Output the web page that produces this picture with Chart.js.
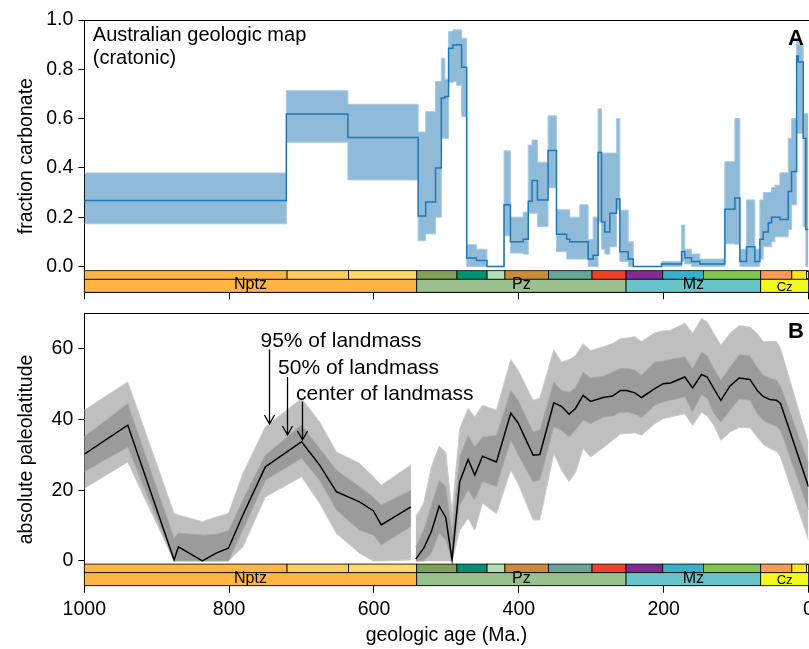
<!DOCTYPE html>
<html>
<head>
<meta charset="utf-8">
<script src="https://cdn.jsdelivr.net/npm/chart.js@4.4.1/dist/chart.umd.min.js"></script>
<style>
  html, body { margin: 0; padding: 0; background: #fff; width: 809px; height: 649px; overflow: hidden; }
  canvas { position: absolute; left: 0; }
  #carb { top: 0; }
  #lat { top: 300px; }
</style>
</head>
<body>
<canvas id="carb" width="809" height="300"></canvas>
<canvas id="lat" width="809" height="349"></canvas>
<script>
// ---- Geologic time scale (Ma) ----
const periodBounds = [1000, 720, 635, 541, 485.4, 443.8, 419.2, 358.9, 298.9, 251.9, 201.3, 145, 66, 23.03, 2.58, 0];
const periodColors = ['#FDB546', '#FECC5C', '#FED96A', '#7FA056', '#009270', '#B3E1B6', '#CB8C37',
                      '#67A599', '#F04028', '#812B92', '#34B2C9', '#7FC64E', '#FD9A52', '#FFE619', '#F9F97F'];
const eraBounds = [1000, 541, 251.9, 66, 0];
const eraNames = ['Nptz', 'Pz', 'Mz', 'Cz'];
const eraColors = ['#FEB342', '#99C08D', '#67C5CA', '#F2F91D'];

// ---- Panel A: fraction carbonate, Australian cratonic map (step series, value holds from each age onward) ----
const carbAge = [1000, 721, 636, 539, 528.6, 515, 507, 502, 497, 491, 486, 479, 472, 458.5, 444,
                 420.4, 411.6, 394, 387, 381.7, 374.3, 359.6, 348, 334, 329.6, 315.8, 304.3, 297.4,
                 290.5, 285.8, 281.3, 274.3, 265.1, 260.5, 249, 242, 203, 175.3, 170.8, 161.5, 150,
                 115.5, 101.7, 94.8, 85.6, 74.1, 67.1, 62.5, 55.6, 51, 46.4, 39.5, 28, 23.4, 16.4,
                 14.2, 7.3, 3.6, 0];
const carbMid = [0.268, 0.619, 0.523, 0.205, 0.261, 0.399, 0.683, 0.69, 0.885, 0.899, 0.90, 0.808, 0.034, 0.024, 0,
                 0.25, 0.10, 0.11, 0.264, 0.349, 0.27, 0.47, 0.131, 0.11, 0.10, 0.10, 0.03, 0.045,
                 0.462, 0.18, 0.14, 0.216, 0.274, 0.06, 0.03, 0, 0.01, 0.06, 0.035, 0.02, 0.01,
                 0.232, 0.278, 0.02, 0.08, 0.02, 0.11, 0.14, 0.177, 0.2, 0.2, 0.19, 0.304, 0.385, 0.854,
                 0.83, 0.52, 0.15, 0.15];
const carbLo = [0.173, 0.504, 0.351, 0.104, 0.132, 0.20, 0.52, 0.52, 0.746, 0.75, 0.735, 0.608, 0, 0, 0,
                0.124, 0.054, 0.05, 0.216, 0.216, 0.162, 0.319, 0.06, 0.03, 0.03, 0.03, 0, 0,
                0.18, 0.07, 0.05, 0.08, 0.23, 0.02, 0, 0, 0, 0.02, 0.01, 0, 0,
                0.092, 0.09, 0, 0, 0, 0.03, 0.08, 0.08, 0.1, 0.12, 0.12, 0.15, 0.25, 0.54,
                0.54, 0.16, 0, 0];
const carbHi = [0.379, 0.713, 0.658, 0.545, 0.628, 0.75, 0.845, 0.76, 0.953, 0.96, 0.96, 0.926, 0.088, 0.07, 0,
                0.469, 0.20, 0.22, 0.493, 0.513, 0.423, 0.611, 0.23, 0.23, 0.20, 0.25, 0.11, 0.2,
                0.64, 0.46, 0.46, 0.46, 0.60, 0.228, 0.10, 0, 0.02, 0.168, 0.07, 0.05, 0.03,
                0.425, 0.60, 0.07, 0.27, 0.07, 0.27, 0.30, 0.30, 0.32, 0.33, 0.38, 0.52, 0.60, 0.92,
                0.90, 0.62, 0.62, 0.62];
const carbTicks = [0, 0.2, 0.4, 0.6, 0.8, 1.0];

// ---- Panel B: absolute paleolatitude (two reconstruction segments) ----
const latAgeA = [1000, 940, 876, 870, 837, 818, 801, 781, 750, 700, 675, 652, 620, 601, 590, 549];
const latMidA = [30.2, 38.4, 0.3, 4.0, 0, 2.2, 3.6, 13, 26.6, 33.7, 27.1, 19.6, 16.7, 14.2, 10.2, 15.3];
const lat50LoA = [25.2, 32.2, 0, 0, 0, 0, 0, 8.7, 22.8, 29, 22.8, 14.4, 8.7, 7.3, 4.5, 9.7];
const lat50HiA = [35.1, 44.5, 6.4, 7.9, 7.3, 7.5, 8.5, 17.2, 29.9, 38.4, 31.8, 25.7, 21, 18.1, 15.8, 20];
const lat95LoA = [20.5, 28, 0, 0, 0, 0, 0, 4, 18.1, 23.8, 16.3, 7.8, 2.2, 0, 0, 0.3];
const lat95HiA = [42.6, 50.6, 13.4, 13, 11.1, 12.4, 13.4, 24.7, 37.9, 45.9, 39.3, 30.8, 27.6, 23.8, 21.4, 27.1];

const latAgeB = [542.3, 531.3, 520.7, 510, 500.9, 492.2, 481.6, 470, 460.8, 450.2, 430.9, 411.1, 401, 380.3, 371,
                 351.7, 341.1, 330.6, 321.8, 311.2, 301, 283.6, 270.6, 259.6, 251.3, 239.8, 230.6, 212.2, 200.7,
                 190.5, 170.8, 160, 147.7, 139.9, 130.7, 121, 108.6, 95.7, 80.9, 70.8, 62.6, 53.3, 44.1, 38.6, 0];
const latMidB = [0.5, 3.6, 8.3, 15.5, 12.3, 0.3, 22.4, 28.7, 24.3, 29.6, 28.0, 41.8, 39.0, 29.9, 30.1,
                 44.7, 43.7, 41.5, 43.1, 46.8, 45.1, 46.2, 46.6, 48.2, 48.2, 47.5, 46.2, 48.7, 50.1,
                 50.3, 52.0, 48.9, 52.7, 52.0, 48.7, 45.4, 49.4, 51.7, 51.3, 48.2, 46.5, 45.6, 45.4, 44.5, 21.0];
const lat50LoB = [0, 0, 2.2, 7.8, 5.9, 0, 15.8, 20, 17.2, 22.4, 21, 34.1, 30, 22.4, 22.8,
                  37.9, 36.9, 35, 37, 39.8, 38.8, 40.6, 41, 42, 42, 41.5, 40.5, 44, 44.9,
                  45.4, 46.4, 42, 47, 46, 41.6, 39.3, 42.5, 45.8, 45.4, 41.6, 39.8, 38.8, 38, 36.9, 14.4];
const lat50HiB = [4, 8.7, 15.8, 22.8, 21, 7.8, 29.4, 35.5, 32.2, 35, 35.5, 48.2, 45.4, 36.5, 37,
                  50.6, 48.2, 47.7, 49, 53.4, 51.7, 52.2, 53.4, 54.4, 54.4, 54, 52.5, 56.2, 56.5,
                  57, 57.7, 54.4, 59, 58, 54.4, 51.1, 54.7, 58.3, 58, 54.7, 52.5, 51.7, 51, 49.5, 27.6];
const lat95LoB = [0, 0, 0, 0, 0, 0, 8.7, 12, 8.7, 16.3, 13.4, 25.7, 21.9, 11.6, 11.6,
                  30.4, 25.7, 22.4, 25, 31.8, 29.4, 32, 34.1, 35.9, 36, 36.2, 35.5, 38.8, 40.2,
                  40.7, 41.6, 38.3, 42, 41, 38.3, 34.1, 36.4, 37.7, 37.7, 35, 33, 31.8, 30.9, 29.4, 5.9];
const lat95HiB = [12.5, 16.3, 26.6, 32.4, 30.8, 13.9, 37.4, 43.1, 40.7, 44, 42.6, 56.9, 53.9, 45.4, 46,
                  59.7, 56.2, 56.9, 58, 61.4, 59.5, 60.5, 61.4, 62.9, 63, 63.4, 62, 64.5, 65,
                  65.2, 67.2, 64.3, 68.5, 67.6, 64.3, 61, 64.3, 66.5, 66.1, 64.3, 62, 62, 62, 60, 33.2];
const latTicks = [0, 20, 40, 60];
const ageTicksStep = 200;

// Annotation labels and arrows (age, latitude)
const noteText = ['95% of landmass', '50% of landmass', 'center of landmass'];
const noteAge = [756.7, 732.5, 707.7];
const noteLat = [60.6, 52.9, 45.5];
const arrowAge = [744.9, 720.5, 699.8];
const arrowFrom = [59.8, 52.0, 45.0];
const arrowTo = [38.7, 35.6, 34.2];

// ---- helpers ----
const FONT = "'Liberation Sans', Arial, Helvetica, sans-serif";
Chart.defaults.font.family = FONT;
Chart.defaults.font.size = 19.5;
Chart.defaults.color = '#000';

function pts(xs, ys) { return xs.map((x, i) => ({ x: x, y: ys[i] })); }
function joinGap(a, b, xa, xb) { return pts(xa, a).concat([{ x: (xa[xa.length - 1] + xb[0]) / 2, y: null }], pts(xb, b)); }

// Time-scale strip along the bottom of each panel
const timeScalePlugin = {
  id: 'timeScale',
  afterDatasetsDraw(chart) {
    const { ctx, chartArea: a, scales: { x } } = chart;
    const h = a.bottom - a.top;
    const eraTop = a.bottom - h * 0.0478;
    const perTop = a.bottom - h * 0.0794;
    ctx.save();
    ctx.lineWidth = 0.8;
    ctx.strokeStyle = '#000';
    for (let i = 0; i < periodColors.length; i++) {
      const x0 = x.getPixelForValue(periodBounds[i]);
      const x1 = x.getPixelForValue(periodBounds[i + 1]);
      ctx.fillStyle = periodColors[i];
      ctx.fillRect(x0, perTop, x1 - x0, eraTop - perTop);
      ctx.strokeRect(x0, perTop, x1 - x0, eraTop - perTop);
    }
    for (let i = 0; i < eraNames.length; i++) {
      const x0 = x.getPixelForValue(eraBounds[i]);
      const x1 = x.getPixelForValue(eraBounds[i + 1]);
      ctx.fillStyle = eraColors[i];
      ctx.fillRect(x0, eraTop, x1 - x0, a.bottom - eraTop);
      ctx.strokeRect(x0, eraTop, x1 - x0, a.bottom - eraTop);
      const narrow = (x1 - x0) < 60;
      ctx.fillStyle = '#000';
      ctx.font = (narrow ? 13 : 16) + 'px ' + FONT;
      ctx.textAlign = 'center';
      ctx.textBaseline = 'alphabetic';
      ctx.fillText(eraNames[i], (x0 + x1) / 2, a.bottom - (narrow ? 1.8 : 3.2));
    }
    ctx.restore();
  }
};

// Top spine, panel letter and free text
const framePlugin = {
  id: 'frame',
  afterDraw(chart, args, opts) {
    const { ctx, chartArea: a } = chart;
    ctx.save();
    ctx.strokeStyle = '#000';
    ctx.lineWidth = 1;
    ctx.beginPath();
    ctx.moveTo(a.left, Math.round(a.top) + 0.5);
    ctx.lineTo(a.right + 2, Math.round(a.top) + 0.5);
    ctx.stroke();
    ctx.fillStyle = '#000';
    ctx.font = 'bold 22px ' + FONT;
    ctx.textAlign = 'right';
    ctx.textBaseline = 'alphabetic';
    ctx.fillText(opts.letter, a.right - 4.5, a.top + 25);
    if (opts.lines) {
      ctx.font = '20px ' + FONT;
      ctx.textAlign = 'left';
      opts.lines.forEach((t, i) => ctx.fillText(t, a.left + 8.5, a.top + 20.5 + i * 23));
    }
    ctx.restore();
  }
};

// Labelled arrows in panel B
const notesPlugin = {
  id: 'notes',
  afterDatasetsDraw(chart) {
    const { ctx, scales: { x, y } } = chart;
    ctx.save();
    ctx.fillStyle = '#000';
    ctx.strokeStyle = '#000';
    ctx.font = '21px ' + FONT;
    ctx.textAlign = 'left';
    ctx.textBaseline = 'alphabetic';
    noteText.forEach((t, i) => ctx.fillText(t, x.getPixelForValue(noteAge[i]), y.getPixelForValue(noteLat[i])));
    ctx.lineWidth = 1.3;
    arrowAge.forEach((age, i) => {
      const px = Math.round(x.getPixelForValue(age)) + 0.5;
      const y0 = y.getPixelForValue(arrowFrom[i]);
      const y1 = y.getPixelForValue(arrowTo[i]);
      ctx.beginPath();
      ctx.moveTo(px, y0);
      ctx.lineTo(px, y1);
      ctx.moveTo(px - 5, y1 - 9);
      ctx.lineTo(px, y1);
      ctx.lineTo(px + 5, y1 - 9);
      ctx.stroke();
    });
    ctx.restore();
  }
};

function fixedTicks(list) {
  return function (scale) { scale.ticks = list.map(v => ({ value: v })); };
}

function xAxis(showLabels, height) {
  return {
    type: 'linear', min: 0, max: 1000, reverse: true, z: 1,
    ticks: { stepSize: ageTicksStep, display: showLabels, padding: 5, maxRotation: 0, callback: v => String(v) },
    grid: { display: true, drawOnChartArea: false, drawTicks: true, tickLength: 7, color: '#000', lineWidth: 1 },
    border: { display: true, color: '#000', width: 1 },
    title: showLabels ? { display: true, text: 'geologic age (Ma.)', font: { size: 19.5 }, padding: { top: 0, bottom: 2 } } : { display: false },
    afterFit(scale) { scale.height = height; scale.paddingLeft = 0; scale.paddingRight = 0; }
  };
}

function yAxis(min, max, list, fmt, title) {
  return {
    type: 'linear', min: min, max: max, z: 1,
    afterBuildTicks: fixedTicks(list),
    ticks: { padding: 5, callback: fmt },
    grid: { display: true, drawOnChartArea: false, drawTicks: true, tickLength: 6, color: '#000', lineWidth: 1 },
    border: { display: true, color: '#000', width: 1 },
    title: { display: true, text: title, font: { size: 19.5 }, padding: { top: 15, bottom: 0 } },
    afterFit(scale) { scale.width = 84.3; scale.paddingTop = 0; scale.paddingBottom = 0; }
  };
}

const common = {
  responsive: false,
  devicePixelRatio: 1,
  animation: false,
  events: [],
  elements: { point: { radius: 0 }, line: { tension: 0 } },
  plugins: { legend: { display: false }, tooltip: { enabled: false } }
};

// ---- Panel A ----
new Chart(document.getElementById('carb'), {
  type: 'line',
  data: {
    datasets: [
      { data: pts(carbAge, carbHi), stepped: true, borderColor: '#a9cbe4', borderWidth: 1, fill: false, order: 5 },
      { data: pts(carbAge, carbLo), stepped: true, borderColor: '#a9cbe4', borderWidth: 1,
        fill: '-1', backgroundColor: 'rgba(31,119,180,0.5)', order: 5 },
      { data: pts(carbAge, carbMid), stepped: true, borderColor: '#1f77b4', borderWidth: 1.5, fill: false, order: 0 }
    ]
  },
  options: Object.assign({}, common, {
    layout: { autoPadding: false, padding: { left: 0, top: 20, right: 0.5, bottom: 0 } },
    scales: {
      x: xAxis(false, 7.7),
      y: yAxis(-0.105, 1.0, carbTicks, v => v.toFixed(1), 'fraction carbonate')
    },
    plugins: Object.assign({}, common.plugins, {
      frame: { letter: 'A', lines: ['Australian geologic map', '(cratonic)'] }
    })
  }),
  plugins: [timeScalePlugin, framePlugin]
});

// ---- Panel B ----
new Chart(document.getElementById('lat'), {
  type: 'line',
  data: {
    datasets: [
      { data: joinGap(lat95HiA, lat95HiB, latAgeA, latAgeB), borderColor: '#cccccc', borderWidth: 1, fill: false, order: 10, spanGaps: false },
      { data: joinGap(lat95LoA, lat95LoB, latAgeA, latAgeB), borderColor: '#cccccc', borderWidth: 1,
        fill: '-1', backgroundColor: '#bfbfbf', order: 10, spanGaps: false },
      { data: joinGap(lat50HiA, lat50HiB, latAgeA, latAgeB), borderColor: '#ababab', borderWidth: 1, fill: false, order: 5, spanGaps: false },
      { data: joinGap(lat50LoA, lat50LoB, latAgeA, latAgeB), borderColor: '#ababab', borderWidth: 1,
        fill: '-1', backgroundColor: '#9b9b9b', order: 5, spanGaps: false },
      { data: joinGap(latMidA, latMidB, latAgeA, latAgeB), borderColor: '#000', borderWidth: 1.5, fill: false, order: 0, spanGaps: false }
    ]
  },
  options: Object.assign({}, common, {
    layout: { autoPadding: false, padding: { left: 0, top: 13.3, right: 0.5, bottom: 0 } },
    scales: {
      x: xAxis(true, 63.3),
      y: yAxis(-7, 70, latTicks, v => String(v), 'absolute paleolatitude')
    },
    plugins: Object.assign({}, common.plugins, {
      frame: { letter: 'B' }
    })
  }),
  plugins: [timeScalePlugin, framePlugin, notesPlugin]
});
</script>
</body>
</html>
